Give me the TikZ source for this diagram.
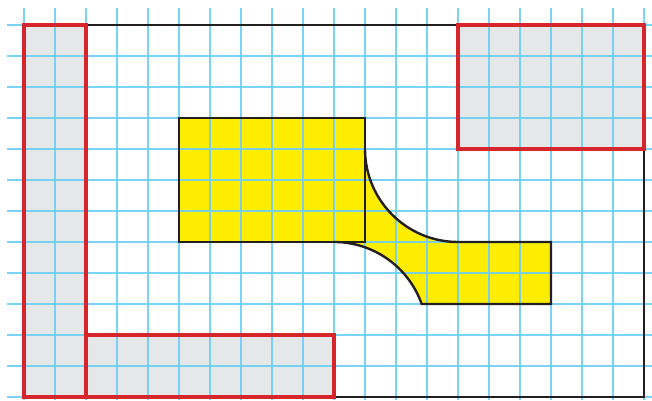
\documentclass[tikz,border=0pt]{standalone}
\usepackage{tikz}

\definecolor{gridblue}{HTML}{6CCFF6}
\definecolor{areagray}{HTML}{E6E7E8}
\definecolor{edgered}{HTML}{D7262B}
\definecolor{shapeyellow}{HTML}{FFED00}
\definecolor{inkblack}{HTML}{231F20}

\begin{document}
\begin{tikzpicture}[x=0.5cm, y=0.5cm, line join=miter]
  \tikzstyle{gridline}=[gridblue, line width=0.75pt, opacity=0.9]
  \tikzstyle{zone}=[fill=areagray, draw=edgered, line width=1.4pt]
  \tikzstyle{frame}=[draw=inkblack, line width=1.1pt]
  \tikzstyle{piece}=[fill=shapeyellow]

  \useasboundingbox (-0.774,-0.097) rectangle (20.258,12.806);

  % grey zones
  \fill[areagray] (0,0) rectangle (2,12);
  \fill[areagray] (2,0) rectangle (10,2);
  \fill[areagray] (14,8) rectangle (20,12);

  % yellow piece
  \coordinate (ptl) at (5,9);
  \coordinate (ptr) at (11,9);
  \coordinate (pbl) at (5,5);
  \fill[piece] (ptl) -- (ptr) -- (11,8) arc[start angle=180, end angle=270, radius=3]
    -- (17,5) -- (17,3) -- ({10+sqrt(8)},3) arc[start angle=19.47, end angle=90, radius=3]
    -- (pbl) -- cycle;

  % squared paper
  \foreach \i in {0,...,20}
    \draw[gridline] (\i,-0.097) -- (\i,12.548);
  \foreach \j in {0,...,12}
    \draw[gridline] (-0.548,\j) -- (20.258,\j);

  % outlines
  \draw[frame] (0,0) rectangle (20,12);
  \draw[frame] (pbl) rectangle (ptr);
  \draw[frame] (11,8) arc[start angle=180, end angle=270, radius=3]
    -- (17,5) -- (17,3) -- ({10+sqrt(8)},3) arc[start angle=19.47, end angle=90, radius=3];

  \draw[zone, fill=none] (0,0) rectangle (2,12);
  \draw[zone, fill=none] (2,0) rectangle (10,2);
  \draw[zone, fill=none] (14,8) rectangle (20,12);
\end{tikzpicture}
\end{document}
